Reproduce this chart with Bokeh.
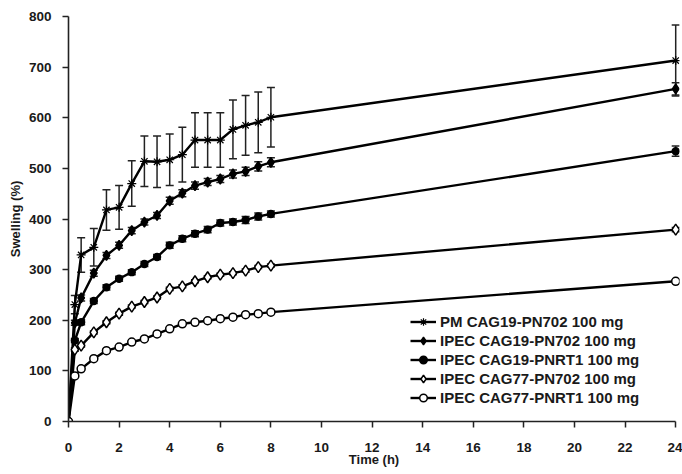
from bokeh.plotting import figure
from bokeh.models import (ColumnDataSource, Whisker, TeeHead, Legend, LegendItem,
                          FixedTicker, Range1d)
from bokeh.embed import file_html
from bokeh.resources import INLINE

# ---- data ----
time_h = [0, 0.25, 0.5, 1, 1.5, 2, 2.5, 3, 3.5, 4, 4.5, 5, 5.5, 6, 6.5, 7, 7.5, 8, 24]

pm_cag19_pn702 = [0, 231, 329, 344, 418, 423, 470, 514, 513, 517, 527, 556, 556, 556, 577, 585, 591, 601, 713]
pm_cag19_pn702_err = [0, 18, 34, 37, 40, 43, 45, 50, 51, 51, 54, 54, 54, 54, 58, 59, 60, 59, 70]

ipec_cag19_pn702 = [0, 195, 244, 293, 328, 348, 377, 394, 407, 436, 451, 466, 473, 479, 489, 494, 504, 512, 657]
ipec_cag19_pn702_err = [0, 5, 6, 6, 6, 6, 6, 6, 6, 7, 7, 7, 7, 7, 8, 8, 9, 9, 12]

ipec_cag19_pnrt1 = [0, 160, 196, 238, 265, 282, 295, 311, 325, 348, 361, 371, 379, 392, 394, 398, 405, 410, 534]
ipec_cag19_pnrt1_err = [0, 4, 5, 5, 5, 5, 5, 5, 5, 6, 6, 6, 6, 6, 6, 7, 7, 6, 10]

ipec_cag77_pn702 = [0, 142, 150, 176, 196, 213, 227, 236, 245, 262, 267, 277, 285, 290, 293, 298, 305, 308, 379]
ipec_cag77_pn702_err = [0, 3, 3, 3, 3, 3, 3, 3, 3, 3, 3, 3, 3, 3, 3, 3, 3, 3, 4]

ipec_cag77_pnrt1 = [0, 90, 104, 124, 140, 147, 157, 163, 173, 183, 193, 196, 199, 203, 206, 211, 213, 216, 277]
ipec_cag77_pnrt1_err = [0, 2, 2, 2, 2, 2, 2, 2, 2, 2, 2, 2, 2, 2, 2, 2, 2, 2, 3]

series_labels = ["PM CAG19-PN702 100 mg", "IPEC CAG19-PN702 100 mg", "IPEC CAG19-PNRT1 100 mg",
                 "IPEC CAG77-PN702 100 mg", "IPEC CAG77-PNRT1 100 mg"]
x_ticks = list(range(0, 25, 2))
y_ticks = list(range(0, 801, 100))

FONT = "Liberation Sans"

p = figure(width=682, height=474, output_backend="svg", toolbar_location=None,
           x_range=Range1d(0, 24.15), y_range=Range1d(0, 800),
           min_border_left=68, min_border_right=3, min_border_top=16, min_border_bottom=53)
p.outline_line_color = None
p.xgrid.visible = False
p.ygrid.visible = False
p.background_fill_color = "white"

for ax in (p.xaxis[0], p.yaxis[0]):
    ax.axis_line_width = 1.6
    ax.axis_line_color = "#222222"
    ax.major_tick_line_width = 1.5
    ax.major_tick_line_color = "#222222"
    ax.major_tick_in = 0
    ax.major_tick_out = 6
    ax.minor_tick_line_color = None
    ax.major_label_text_font = FONT
    ax.major_label_text_font_style = "bold"
    ax.major_label_text_font_size = "13.5px"
    ax.major_label_text_color = "#1a1a1a"
    ax.axis_label_text_font = FONT
    ax.axis_label_text_font_style = "bold"
    ax.axis_label_text_font_size = "13px"
    ax.axis_label_text_color = "#1a1a1a"

p.xaxis.bounds = (0, 24)
p.xaxis.ticker = FixedTicker(ticks=x_ticks)
p.yaxis.ticker = FixedTicker(ticks=y_ticks)
p.xaxis.axis_label = "Time (h)"
p.yaxis.axis_label = "Swelling (%)"
p.xaxis.major_label_standoff = 15
p.xaxis.axis_label_standoff = -3
p.yaxis.major_label_standoff = 11
p.yaxis.axis_label_standoff = 3

specs = [
    (pm_cag19_pn702, pm_cag19_pn702_err, "asterisk", 9, "black", 1.2),
    (ipec_cag19_pn702, ipec_cag19_pn702_err, "diamond", 10, "black", 1.4),
    (ipec_cag19_pnrt1, ipec_cag19_pnrt1_err, "circle", 7, "black", 1.4),
    (ipec_cag77_pn702, ipec_cag77_pn702_err, "diamond", 11, "white", 1.5),
    (ipec_cag77_pnrt1, ipec_cag77_pnrt1_err, "circle", 8, "white", 1.5),
]

items = []
for (vals, errs, marker, size, fill, lw), label in zip(specs, series_labels):
    src = ColumnDataSource(dict(
        t=time_h, v=vals,
        upper=[a + b for a, b in zip(vals, errs)],
        lower=[a - b for a, b in zip(vals, errs)],
    ))
    w = Whisker(source=src, base="t", upper="upper", lower="lower",
                line_color="#222222", line_width=1.5,
                upper_head=TeeHead(size=8, line_color="#222222", line_width=1.5),
                lower_head=TeeHead(size=8, line_color="#222222", line_width=1.5))
    p.add_layout(w)
    lr = p.line("t", "v", source=src, line_color="black", line_width=2.4)
    sr = p.scatter("t", "v", source=src, marker=marker, size=size,
                   fill_color=fill, line_color="black", line_width=lw)
    items.append(LegendItem(label=label, renderers=[lr, sr]))

legend = Legend(items=items, location=(342, 14), orientation="vertical",
                background_fill_alpha=0, border_line_color=None,
                padding=0, margin=0, spacing=0,
                glyph_width=26, glyph_height=19, label_height=19,
                label_standoff=4,
                label_text_font=FONT, label_text_font_style="bold",
                label_text_font_size="15px", label_text_color="#1a1a1a")
p.add_layout(legend, "center")

open("out.html", "w").write(file_html(p, INLINE))
